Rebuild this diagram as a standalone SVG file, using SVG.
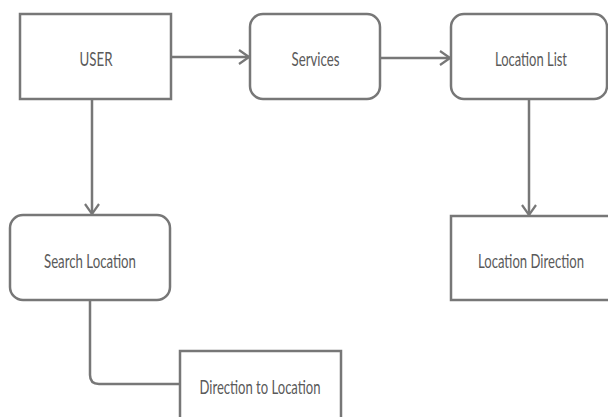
<svg xmlns="http://www.w3.org/2000/svg" width="608" height="417" viewBox="0 0 608 417">
  <defs>
    <style>
      .box { fill: #ffffff; stroke: #777777; stroke-width: 2.5; }
      .lbl { font-family: Lato, "Open Sans", sans-serif; font-size: 19px; fill: #5a5a5a; text-anchor: middle; }
      .wire { fill: none; stroke: #777777; stroke-width: 2.5; }
    </style>
    <marker id="chev" viewBox="0 0 12 16" refX="11" refY="8" markerWidth="12" markerHeight="16" markerUnits="userSpaceOnUse" orient="auto">
      <path d="M1,1 L11,8 L1,15" fill="none" stroke="#777777" stroke-width="2.2"/>
    </marker>
  </defs>
  <rect width="608" height="417" fill="#ffffff"/>

  <g id="connectors">
    <path class="wire" d="M171,57 L249,57" marker-end="url(#chev)"/>
    <path class="wire" d="M380,58 L450,58" marker-end="url(#chev)"/>
    <path class="wire" d="M92,99 L92,214" marker-end="url(#chev)"/>
    <path class="wire" d="M529,99 L529,215" marker-end="url(#chev)"/>
    <path class="wire" d="M90,300 L90,375 Q90,384 99,384 L180,384"/>
  </g>

  <g id="user">
    <rect class="box" x="20" y="14" width="151" height="85"/>
    <text class="lbl" x="96" y="66" textLength="33" lengthAdjust="spacingAndGlyphs">USER</text>
  </g>

  <g id="services">
    <rect class="box" x="250" y="14" width="130" height="85" rx="13"/>
    <text class="lbl" x="315.5" y="66" textLength="48" lengthAdjust="spacingAndGlyphs">Services</text>
  </g>

  <g id="location-list">
    <rect class="box" x="451" y="14" width="156" height="85" rx="13"/>
    <text class="lbl" x="531" y="66" textLength="72" lengthAdjust="spacingAndGlyphs">Location List</text>
  </g>

  <g id="search-location">
    <rect class="box" x="10" y="215" width="160" height="85" rx="13"/>
    <text class="lbl" x="90" y="268" textLength="92" lengthAdjust="spacingAndGlyphs">Search Location</text>
  </g>

  <g id="location-direction">
    <rect class="box" x="451" y="216" width="170" height="84"/>
    <text class="lbl" x="531" y="268" textLength="106" lengthAdjust="spacingAndGlyphs">Location Direction</text>
  </g>

  <g id="direction-to-location">
    <rect class="box" x="180" y="351" width="161" height="80"/>
    <text class="lbl" x="260" y="394" textLength="121" lengthAdjust="spacingAndGlyphs">Direction to Location</text>
  </g>
</svg>
